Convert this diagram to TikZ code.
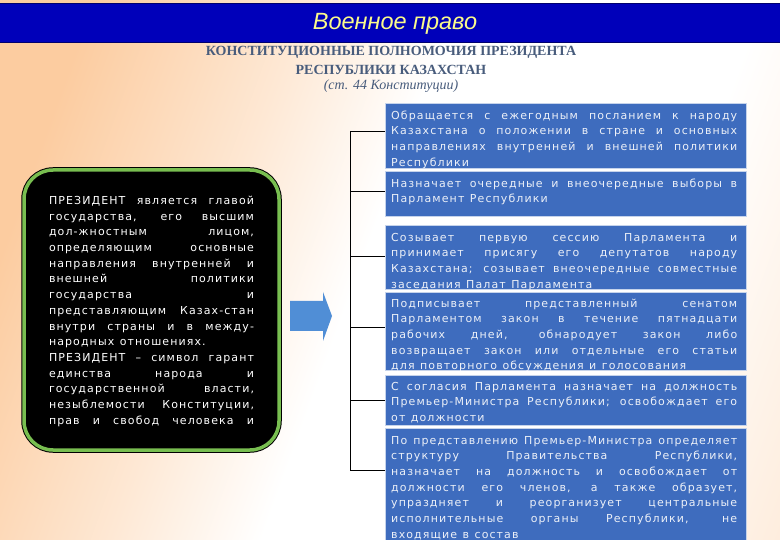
\documentclass[tikz,border=0pt]{standalone}
\usepackage{fontspec}
\setmainfont{Liberation Serif}
\newfontfamily\boxfont[LetterSpace=10]{DejaVu Sans}
\newfontfamily\titlefont{Liberation Sans}
\definecolor{peach}{RGB}{252,204,160}
\definecolor{barblue}{RGB}{0,0,186}
\definecolor{bardark}{RGB}{0,0,110}
\definecolor{headgray}{RGB}{72,92,124}
\definecolor{boxblue}{RGB}{62,108,190}
\definecolor{boxtextc}{RGB}{236,240,248}
\definecolor{framegreen}{RGB}{120,190,80}
\definecolor{arrowblue}{RGB}{80,142,214}
\definecolor{titleyellow}{RGB}{250,250,140}
\colorlet{peachlight}{peach!45!white}
\colorlet{peachright}{peach!80!white}
\pgfdeclarehorizontalshading{bgshade}{100bp}{color(0bp)=(peach); color(24bp)=(peach);
  color(38bp)=(peachlight); color(48bp)=(white); color(68bp)=(white); color(100bp)=(peachright)}
\newcommand{\jlineR}[1]{\leavevmode\hbox to 346pt{\spaceskip=0.3em plus 1fil\relax #1}\\}
\newcommand{\jlineL}[1]{\leavevmode\hbox to 205pt{\spaceskip=0.3em plus 1fil\relax #1}\\}
\newcommand{\nline}[1]{\leavevmode\hbox{\spaceskip=0.5em\relax #1}}
\tikzset{
  bluebox/.style={draw=white!70!boxblue, line width=1pt, fill=boxblue, inner sep=0pt,
    anchor=north west, minimum width=361pt},
  boxtext/.style={text=boxtextc, font=\boxfont\fontsize{11}{15.7}\selectfont, inner sep=0pt,
    anchor=north west, text width=346pt, align=left},
  presbox/.style={draw=black, line width=1pt, double=framegreen, double distance=3.5pt,
    fill=black, rounded corners=29pt, minimum width=255pt, minimum height=280pt,
    text width=205pt, align=left, inner sep=0pt, text=white,
    font=\boxfont\fontsize{11}{15.7}\selectfont},
  heading/.style={text=headgray, inner sep=0pt},
  branch/.style={draw=black, line width=0.9pt}
}
\begin{document}
\begin{tikzpicture}[x=1pt,y=-1pt]
\useasboundingbox (0,0) rectangle (780,540);
% background
\shade[shading=bgshade, shading angle=-20] (0,0) rectangle (780,540);
% title bar
\fill[barblue] (0,3) rectangle (780,43);
\draw[bardark, line width=1pt] (0,3.5) -- (780,3.5);
\draw[bardark, line width=1pt] (0,42.5) -- (780,42.5);
\node[font=\titlefont\itshape\fontsize{23.5}{23.5}\selectfont, text=titleyellow] (title) at (395,24) {Военное право};
% headings
\node[heading, font=\bfseries\fontsize{14}{14}\selectfont] (h1) at (391,52) {КОНСТИТУЦИОННЫЕ ПОЛНОМОЧИЯ ПРЕЗИДЕНТА};
\node[heading, font=\bfseries\fontsize{14}{14}\selectfont] (h2) at (391,70) {РЕСПУБЛИКИ КАЗАХСТАН};
\node[heading, font=\itshape\fontsize{14}{14}\selectfont] (h3) at (391,86) {(ст. 44 Конституции)};
% president box
\node[presbox] (pres) at (151.5,310) {\strut\jlineL{ПРЕЗИДЕНТ является главой}
\jlineL{государства, его высшим}
\jlineL{дол-жностным лицом,}
\jlineL{определяющим основные}
\jlineL{направления внутренней и}
\jlineL{внешней политики}
\jlineL{государства и}
\jlineL{представляющим Казах-стан}
\jlineL{внутри страны и в между-}
\nline{народных отношениях.}\\
\jlineL{ПРЕЗИДЕНТ – символ гарант}
\jlineL{единства народа и}
\jlineL{государственной власти,}
\jlineL{незыблемости Конституции,}
\leavevmode\hbox to 205pt{\spaceskip=0.3em plus 1fil\relax прав и свобод человека и}};
% arrow
\fill[arrowblue] (290,301) -- (323,301) -- (323,292) -- (332,316) -- (323,341) -- (323,331) -- (290,331) -- cycle;
% boxes
\node[bluebox, minimum height=65pt] (b1) at (385,103) {};
\node[bluebox, minimum height=45pt] (b2) at (385,171) {};
\node[bluebox, minimum height=64pt] (b3) at (385,225) {};
\node[bluebox, minimum height=78pt] (b4) at (385,292) {};
\node[bluebox, minimum height=50pt] (b5) at (385,375) {};
\node[bluebox, minimum height=115pt] (b6) at (385,428) {};
\begin{scope}
\clip (b1.north west) rectangle (b1.south east);
\node[boxtext] (t1) at (391,108) {\strut\jlineR{Обращается с ежегодным посланием к народу}
\jlineR{Казахстана о положении в стране и основных}
\jlineR{направлениях внутренней и внешней политики}
\nline{Республики}};
\end{scope}
\begin{scope}
\clip (b2.north west) rectangle (b2.south east);
\node[boxtext] (t2) at (391,176) {\strut\jlineR{Назначает очередные и внеочередные выборы в}
\nline{Парламент Республики}};
\end{scope}
\begin{scope}
\clip (b3.north west) rectangle (b3.south east);
\node[boxtext] (t3) at (391,230) {\strut\jlineR{Созывает первую сессию Парламента и}
\jlineR{принимает присягу его депутатов народу}
\jlineR{Казахстана; созывает внеочередные совместные}
\nline{заседания Палат Парламента}};
\end{scope}
\begin{scope}
\clip (b4.north west) rectangle (b4.south east);
\node[boxtext] (t4) at (391,296) {\strut\jlineR{Подписывает представленный сенатом}
\jlineR{Парламентом закон в течение пятнадцати}
\jlineR{рабочих дней, обнародует закон либо}
\jlineR{возвращает закон или отдельные его статьи}
\nline{для повторного обсуждения и голосования}};
\end{scope}
\begin{scope}
\clip (b5.north west) rectangle (b5.south east);
\node[boxtext] (t5) at (391,379) {\strut\jlineR{С согласия Парламента назначает на должность}
\jlineR{Премьер-Министра Республики; освобождает его}
\nline{от должности}};
\end{scope}
\begin{scope}
\clip (b6.north west) rectangle (b6.south east);
\node[boxtext] (t6) at (391,433) {\strut\jlineR{По представлению Премьер-Министра определяет}
\jlineR{структуру Правительства Республики,}
\jlineR{назначает на должность и освобождает от}
\jlineR{должности его членов, а также образует,}
\jlineR{упраздняет и реорганизует центральные}
\jlineR{исполнительные органы Республики, не}
\nline{входящие в состав}};
\end{scope}
% bracket
\coordinate (j1) at (350,131);
\coordinate (j2) at (350,191);
\coordinate (j3) at (350,256);
\coordinate (j4) at (350,327);
\coordinate (j5) at (350,400);
\coordinate (j6) at (350,470);
\draw[branch] (j1) -- (j6);
\draw[branch] (j1) -- (j1 -| b1.west);
\draw[branch] (j2) -- (j2 -| b2.west);
\draw[branch] (j3) -- (j3 -| b3.west);
\draw[branch] (j4) -- (j4 -| b4.west);
\draw[branch] (j5) -- (j5 -| b5.west);
\draw[branch] (j6) -- (j6 -| b6.west);
\end{tikzpicture}
\end{document}
